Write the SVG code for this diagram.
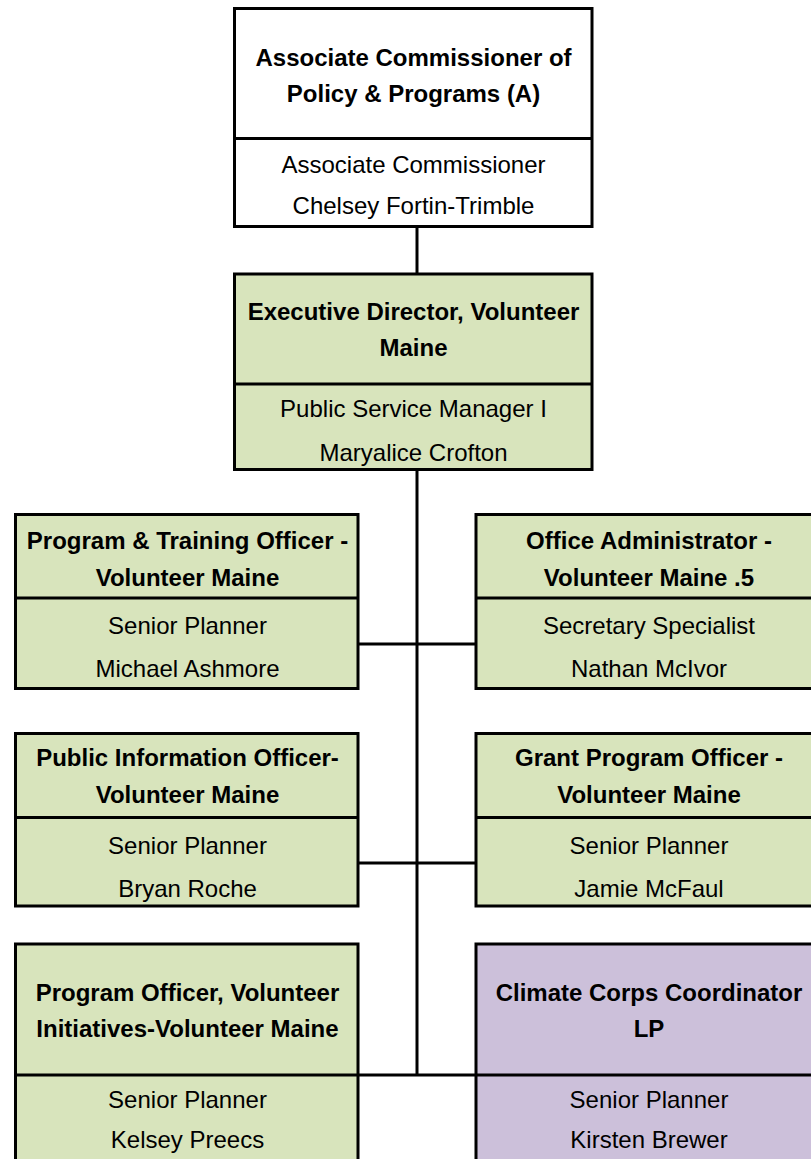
<svg xmlns="http://www.w3.org/2000/svg" width="811" height="1159" viewBox="0 0 811 1159">
<style>
  .box { stroke: #000; stroke-width: 3; }
  .white { fill: #FFFFFF; }
  .green { fill: #D8E4BC; }
  .purple { fill: #CCC0DA; }
  .div { stroke: #000; stroke-width: 3; }
  .t { font-family: "Liberation Sans", Arial, sans-serif; font-size: 24px; fill: #000; text-anchor: middle; }
  .b { font-weight: bold; }
  .conn line { stroke: #000; stroke-width: 3; }
</style>
<rect x="0" y="0" width="811" height="1159" fill="#FFFFFF"/>
<g id="connectors" class="conn">
  <line x1="417" y1="226.5" x2="417" y2="274"/>
  <line x1="417" y1="469.5" x2="417" y2="1075"/>
  <line x1="358" y1="644" x2="476" y2="644"/>
  <line x1="358" y1="863" x2="476" y2="863"/>
  <line x1="358" y1="1075" x2="476" y2="1075"/>
</g>
<g id="node-assoc-commissioner">
  <rect class="box white" x="234.5" y="8.5" width="357.5" height="218"/>
  <line class="div" x1="234.5" y1="138.5" x2="592" y2="138.5"/>
  <text class="t b" x="413.5" y="66">Associate Commissioner of</text>
  <text class="t b" x="413.5" y="102">Policy &amp; Programs (A)</text>
  <text class="t" x="413.5" y="173">Associate Commissioner</text>
  <text class="t" x="413.5" y="214">Chelsey Fortin-Trimble</text>
</g>
<g id="node-exec-director">
  <rect class="box green" x="234.5" y="274" width="357.5" height="195.5"/>
  <line class="div" x1="234.5" y1="384" x2="592" y2="384"/>
  <text class="t b" x="413.5" y="320">Executive Director, Volunteer</text>
  <text class="t b" x="413.5" y="356">Maine</text>
  <text class="t" x="413.5" y="417">Public Service Manager I</text>
  <text class="t" x="413.5" y="461">Maryalice Crofton</text>
</g>
<g id="node-program-training">
  <rect class="box green" x="15.5" y="514.5" width="342.5" height="174"/>
  <line class="div" x1="15.5" y1="598" x2="358" y2="598"/>
  <text class="t b" x="187.5" y="549">Program &amp; Training Officer -</text>
  <text class="t b" x="187.5" y="586">Volunteer Maine</text>
  <text class="t" x="187.5" y="634">Senior Planner</text>
  <text class="t" x="187.5" y="677">Michael Ashmore</text>
</g>
<g id="node-office-admin">
  <rect class="box green" x="476" y="514.5" width="350" height="174"/>
  <line class="div" x1="476" y1="598" x2="826" y2="598"/>
  <text class="t b" x="649" y="549">Office Administrator -</text>
  <text class="t b" x="649" y="586">Volunteer Maine .5</text>
  <text class="t" x="649" y="634">Secretary Specialist</text>
  <text class="t" x="649" y="677">Nathan McIvor</text>
</g>
<g id="node-public-info">
  <rect class="box green" x="15.5" y="733.5" width="342.5" height="172.5"/>
  <line class="div" x1="15.5" y1="817.5" x2="358" y2="817.5"/>
  <text class="t b" x="187.5" y="766">Public Information Officer-</text>
  <text class="t b" x="187.5" y="803">Volunteer Maine</text>
  <text class="t" x="187.5" y="854">Senior Planner</text>
  <text class="t" x="187.5" y="897">Bryan Roche</text>
</g>
<g id="node-grant-program">
  <rect class="box green" x="476" y="733.5" width="350" height="172.5"/>
  <line class="div" x1="476" y1="817.5" x2="826" y2="817.5"/>
  <text class="t b" x="649" y="766">Grant Program Officer -</text>
  <text class="t b" x="649" y="803">Volunteer Maine</text>
  <text class="t" x="649" y="854">Senior Planner</text>
  <text class="t" x="649" y="897">Jamie McFaul</text>
</g>
<g id="node-program-officer">
  <rect class="box green" x="15.5" y="944" width="342.5" height="240"/>
  <line class="div" x1="15.5" y1="1075" x2="358" y2="1075"/>
  <text class="t b" x="187.5" y="1001">Program Officer, Volunteer</text>
  <text class="t b" x="187.5" y="1037">Initiatives-Volunteer Maine</text>
  <text class="t" x="187.5" y="1108">Senior Planner</text>
  <text class="t" x="187.5" y="1148">Kelsey Preecs</text>
</g>
<g id="node-climate-corps">
  <rect class="box purple" x="476" y="944" width="350" height="240"/>
  <line class="div" x1="476" y1="1075" x2="826" y2="1075"/>
  <text class="t b" x="649" y="1001">Climate Corps Coordinator</text>
  <text class="t b" x="649" y="1037">LP</text>
  <text class="t" x="649" y="1108">Senior Planner</text>
  <text class="t" x="649" y="1148">Kirsten Brewer</text>
</g>
</svg>
